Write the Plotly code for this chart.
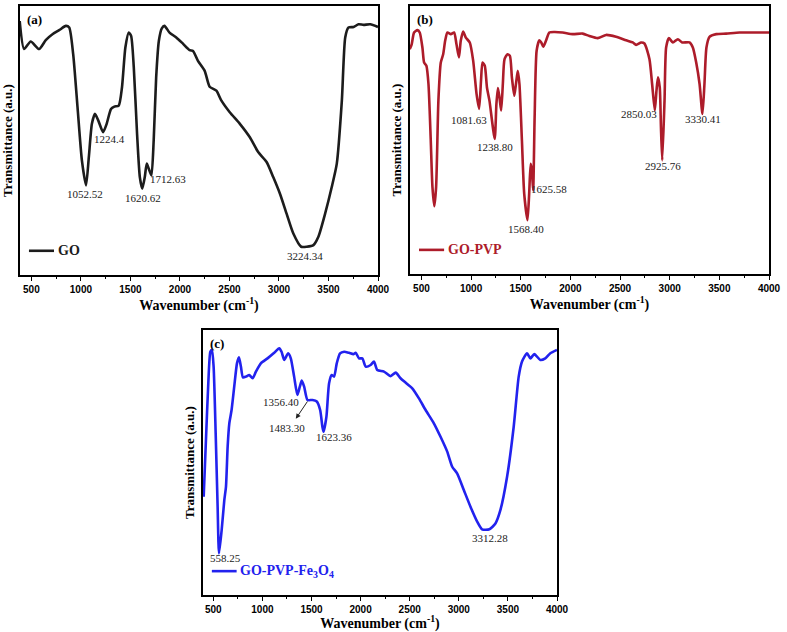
import plotly.graph_objects as go

# ---------------- data ----------------
go_wn = [382, 426, 493, 578, 645, 713, 780, 848, 882, 922, 966, 1010, 1052, 1080, 1111, 1142, 1176, 1224,
         1260, 1304, 1338, 1382, 1415, 1449, 1483, 1507, 1534, 1567, 1595, 1620, 1645, 1665, 1685, 1712,
         1735, 1760, 1787, 1817, 1844, 1895, 1963, 2030, 2098, 2132, 2182, 2250, 2300, 2368, 2419, 2503,
         2605, 2706, 2790, 2875, 2942, 3010, 3077, 3145, 3224, 3280, 3348, 3398, 3466, 3533, 3584, 3635,
         3669, 3702, 3753, 3804, 3854, 3922, 4000]
go_t = [94.4, 84.0, 86.8, 84.0, 87.3, 89.5, 91.0, 92.6, 92.0, 82.1, 62.3, 42.6, 33.3, 43.8, 56.2, 59.9, 57.4, 53.1,
        56.2, 61.7, 62.6, 63.0, 69.8, 84.6, 90.1, 88.9, 77.2, 52.5, 36.4, 32.1, 36.4, 41.4, 39.5, 37.0,
        50.0, 73.5, 87.0, 91.7, 92.6, 90.1, 88.3, 86.0, 83.6, 83.3, 79.6, 75.9, 70.0, 68.5, 64.8, 60.5,
        56.2, 51.2, 45.7, 42.0, 36.4, 30.2, 22.8, 15.4, 10.5, 10.5, 11.1, 14.2, 22.8, 32.7, 41.4, 64.8,
        88.3, 92.0, 92.2, 93.2, 93.0, 93.2, 92.2]

pvp_wn = [382, 402, 426, 460, 483, 510, 527, 550, 571, 594, 611, 630, 648, 671, 695, 719, 739, 762, 796, 829,
          853, 878, 896, 920, 947, 987, 1021, 1055, 1081, 1100, 1115, 1138, 1160, 1185, 1238, 1255, 1270,
          1286, 1303, 1320, 1337, 1367, 1391, 1411, 1435, 1452, 1470, 1487, 1512, 1535, 1568, 1585, 1600,
          1612, 1625, 1640, 1660, 1687, 1707, 1727, 1754, 1788, 1838, 1922, 2023, 2124, 2191, 2275, 2359,
          2460, 2561, 2628, 2662, 2712, 2746, 2796, 2823, 2850, 2867, 2882, 2900, 2912, 2925, 2948, 2964,
          2991, 3032, 3082, 3126, 3200, 3233, 3267, 3301, 3330, 3350, 3370, 3401, 3469, 3569, 3704, 3872, 4000]
pvp_t = [83.9, 85.7, 90.1, 91.0, 90.1, 84.5, 78.9, 77.7, 70.9, 49.8, 32.5, 25.3, 32.5, 64.7, 78.9, 82.0, 87.0,
         90.1, 89.5, 90.1, 85.7, 80.8, 87.0, 90.5, 88.2, 86.4, 79.6, 67.2, 61.6, 72.1, 78.9, 77.7, 69.6,
         64.7, 50.4, 63.4, 69.4, 65.9, 61.0, 70.9, 80.2, 82.0, 81.4, 73.4, 66.5, 70.9, 75.8, 70.9, 49.8,
         30.0, 20.1, 30.0, 41.1, 38.7, 31.2, 58.5, 83.3, 87.2, 86.4, 84.8, 87.0, 90.1, 90.3, 90.1, 89.5,
         89.7, 88.8, 88.0, 89.2, 88.5, 87.2, 86.4, 85.5, 86.4, 86.0, 80.2, 70.9, 61.0, 68.4, 73.4, 69.6,
         54.8, 42.4, 64.7, 84.5, 88.0, 86.4, 87.6, 86.4, 86.4, 84.5, 78.9, 70.9, 59.7, 70.9, 84.5, 88.5,
         89.5, 89.7, 90.1, 90.1, 90.1]

fe_wn = [402, 425, 449, 470, 486, 503, 524, 544, 558, 585, 612, 629, 646, 663, 686, 713, 741, 761, 781, 802,
         832, 866, 900, 934, 984, 1052, 1120, 1171, 1195, 1222, 1262, 1289, 1323, 1356, 1381, 1401, 1425,
         1459, 1510, 1554, 1588, 1611, 1623, 1652, 1679, 1706, 1730, 1757, 1791, 1832, 1882, 1926, 1950,
         1984, 2018, 2052, 2102, 2136, 2170, 2238, 2306, 2357, 2407, 2475, 2526, 2594, 2662, 2746, 2814,
         2882, 2933, 2983, 3051, 3119, 3187, 3237, 3312, 3373, 3424, 3492, 3559, 3610, 3644, 3695, 3729,
         3769, 3830, 3881, 3932, 4000]
fe_t = [37.1, 58.5, 79.9, 91.8, 92.5, 86.2, 61.0, 33.3, 15.7, 24.5, 35.8, 40.9, 56.0, 64.8, 69.8, 78.6, 87.4,
        89.7, 86.2, 82.1, 82.4, 83.0, 81.8, 84.3, 87.4, 89.3, 91.4, 93.1, 91.8, 88.7, 91.2, 89.3, 82.4,
        75.5, 78.6, 80.9, 78.6, 73.6, 73.6, 73.0, 69.8, 63.5, 61.6, 67.3, 79.9, 83.0, 82.4, 87.4, 91.2,
        91.8, 91.4, 90.9, 91.4, 89.3, 89.3, 86.2, 86.8, 88.1, 84.9, 84.3, 82.6, 83.9, 81.8, 79.6, 78.0,
        74.2, 69.8, 64.8, 59.7, 54.1, 48.4, 45.9, 39.6, 33.3, 27.7, 24.8, 24.8, 27.0, 32.1, 44.7, 63.5,
        82.4, 88.1, 91.2, 89.3, 90.9, 88.7, 89.3, 91.2, 92.5]

x_ticks = [500, 1000, 1500, 2000, 2500, 3000, 3500, 4000]

# peak labels: (text, x, y)
go_labels = [("1052.52", 1037, 30.2), ("1224.4", 1287, 50.6), ("1620.62", 1632, 28.8),
             ("1712.63", 1878, 35.6), ("3224.34", 3263, 7.2)]
pvp_labels = [("1081.63", 981, 57.5), ("1238.80", 1243, 47.3), ("1568.40", 1552, 16.9),
              ("1625.58", 1788, 31.8), ("2850.03", 2695, 59.7), ("2925.76", 2937, 40.3),
              ("3330.41", 3334, 57.9)]
fe_labels = [("558.25", 629, 13.8), ("1356.40", 1188, 73.0), ("1483.30", 1255, 63.1),
             ("1623.36", 1730, 59.5), ("3312.28", 3322, 21.6)]

# ---------------- figure ----------------
W, H = 787, 632
panels = [
    dict(name="GO", legend_html="GO", wn=go_wn, t=go_t, color="#1c1c1c", labels=go_labels, tag="(a)",
         px=(20, 378), py=(6, 275), xr=[385, 4000]),
    dict(name="GO-PVP", legend_html="GO-PVP", wn=pvp_wn, t=pvp_t, color="#ad1c2a", labels=pvp_labels, tag="(b)",
         px=(410, 769), py=(6, 274), xr=[385, 4000]),
    dict(name="GO-PVP-Fe3O4", legend_html="GO-PVP-Fe<sub>3</sub>O<sub>4</sub>", wn=fe_wn, t=fe_t,
         color="#2222ee", labels=fe_labels, tag="(c)", px=(203, 557), py=(330, 595), xr=[395, 4000]),
]

fig = go.Figure()
serif = "Liberation Serif, Times New Roman, serif"
annotations = []
shapes = []
for i, p in enumerate(panels):
    n = "" if i == 0 else str(i + 1)
    xa, ya = "x" + n, "y" + n
    fig.add_trace(go.Scatter(x=p["wn"], y=p["t"], mode="lines", name=p["name"],
                             line=dict(color=p["color"], width=2.6, shape="spline", smoothing=0.6),
                             xaxis=xa, yaxis=ya, showlegend=False, hoverinfo="skip"))
    xd = [p["px"][0] / W, p["px"][1] / W]
    yd = [1 - p["py"][1] / H, 1 - p["py"][0] / H]
    fig.update_layout(**{
        "xaxis" + n: dict(domain=xd, range=p["xr"], tickvals=x_ticks, ticks="outside", ticklen=4,
                          tickwidth=1.3, tickcolor="black", automargin=False,
                          minor=dict(dtick=250, tick0=0, ticks="outside", ticklen=2.5, tickwidth=1.2,
                                     tickcolor="black"),
                          showline=True, linecolor="black", linewidth=1.6, mirror=True, showgrid=False,
                          zeroline=False, anchor=ya,
                          tickfont=dict(family="Liberation Sans, Arial, sans-serif", size=10, color="black",
                                        weight="bold"),
                          title=dict(text="<b>Wavenumber (cm<sup>-1</sup>)</b>", standoff=2,
                                     font=dict(family=serif, size=14, color="black"))),
        "yaxis" + n: dict(domain=yd, range=[0, 100], showticklabels=False, ticks="", showline=True,
                          linecolor="black", linewidth=1.6, mirror=True, showgrid=False, zeroline=False,
                          anchor=xa, automargin=False,
                          title=dict(text="<b>Transmittance (a.u.)</b>", standoff=4,
                                     font=dict(family=serif, size=13, color="black"))),
    })
    # panel tag
    annotations.append(dict(text="<b>" + p["tag"] + "</b>", x=0.015, y=0.985, xref=xa + " domain",
                            yref=ya + " domain", xanchor="left", yanchor="top", showarrow=False,
                            font=dict(family=serif, size=13, color="black")))
    # peak labels
    for txt, lx, ly in p["labels"]:
        annotations.append(dict(text=txt, x=lx, y=ly, xref=xa, yref=ya, showarrow=False,
                                font=dict(family=serif, size=11, color="#222222")))
    # legend (line sample + text)
    shapes.append(dict(type="line", xref=xa + " domain", yref=ya + " domain", x0=0.025, x1=0.095,
                       y0=0.09, y1=0.09, line=dict(color=p["color"], width=2.6)))
    annotations.append(dict(text="<b>" + p["legend_html"] + "</b>", x=0.1, y=0.09, xref=xa + " domain",
                            yref=ya + " domain", xanchor="left", yanchor="middle", showarrow=False,
                            font=dict(family=serif, size=14, color=p["color"])))

# arrow in panel (c)
annotations.append(dict(text="", x=1340, y=66.5, ax=1469, ay=73.6, xref="x3", yref="y3", axref="x3",
                        ayref="y3", showarrow=True, arrowhead=2, arrowsize=1, arrowwidth=1,
                        arrowcolor="#222222"))

fig.update_layout(width=W, height=H, autosize=False, margin=dict(l=0, r=0, t=0, b=0, pad=0),
                  paper_bgcolor="white", plot_bgcolor="white", showlegend=False, hovermode=False,
                  annotations=annotations, shapes=shapes)

fig.write_html("out.html", config={"displayModeBar": False},
               post_script="document.body.style.margin='0';document.body.style.overflow='hidden';")
